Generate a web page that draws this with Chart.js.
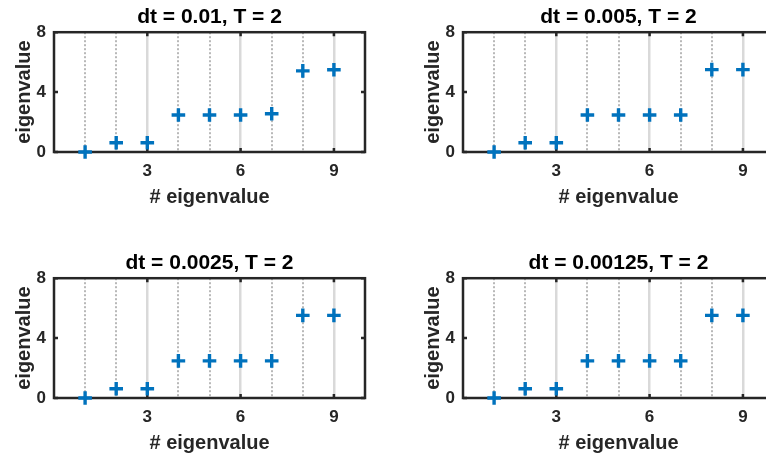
<!DOCTYPE html>
<html><head><meta charset="utf-8">
<script src="https://cdn.jsdelivr.net/npm/chart.js@4.4.1/dist/chart.umd.min.js"></script>
<style>
html,body{margin:0;padding:0;background:#fff;width:766px;height:459px;overflow:hidden;}
body{position:relative;}
canvas{position:absolute;}
</style></head><body>
<canvas id="c1" width="400" height="230" style="left:0px;top:0px"></canvas>
<canvas id="c2" width="400" height="230" style="left:409px;top:0px"></canvas>
<canvas id="c3" width="400" height="230" style="left:0px;top:246px"></canvas>
<canvas id="c4" width="400" height="230" style="left:409px;top:246px"></canvas>
<script>
// ---- data ----
const eigIndex = [1, 2, 3, 4, 5, 6, 7, 8, 9];
const panelTitles = ['dt = 0.01, T = 2', 'dt = 0.005, T = 2', 'dt = 0.0025, T = 2', 'dt = 0.00125, T = 2'];
const eigDt0p01    = [0, 0.62, 0.62, 2.47, 2.47, 2.47, 2.55, 5.42, 5.49];
const eigDt0p005   = [0, 0.62, 0.62, 2.47, 2.47, 2.47, 2.47, 5.50, 5.50];
const eigDt0p0025  = [0, 0.62, 0.62, 2.48, 2.48, 2.48, 2.48, 5.52, 5.52];
const eigDt0p00125 = [0, 0.62, 0.62, 2.48, 2.48, 2.48, 2.48, 5.52, 5.52];
const xTickLabels = [3, 6, 9];
const yTickValues = [0, 4, 8];
const xLabel = '# eigenvalue';
const yLabel = 'eigenvalue';

const FONT = "'Liberation Sans', Arial, Helvetica, sans-serif";
const AXC = '#262626';
const BLUE = '#0072BD';

const boxPlugin = {
  id: 'box',
  beforeDatasetsDraw(chart) {
    const {ctx, chartArea: {left, right, top, bottom}, scales: {x, y}} = chart;
    ctx.save();
    ctx.strokeStyle = AXC;
    ctx.lineWidth = 2.5;
    ctx.strokeRect(left, top, right - left, bottom - top);
    const tl = 4;
    ctx.beginPath();
    xTickLabels.forEach(v => {
      const px = x.getPixelForValue(v);
      ctx.moveTo(px, bottom); ctx.lineTo(px, bottom - tl);
      ctx.moveTo(px, top); ctx.lineTo(px, top + tl);
    });
    yTickValues.forEach(v => {
      const py = y.getPixelForValue(v);
      ctx.moveTo(left, py); ctx.lineTo(left + tl, py);
      ctx.moveTo(right, py); ctx.lineTo(right - tl, py);
    });
    ctx.stroke();
    ctx.restore();
  }
};

function makeChart(id, title, values) {
  return new Chart(document.getElementById(id), {
    type: 'scatter',
    data: {
      datasets: [{
        data: eigIndex.map((k, i) => ({x: k, y: values[i]})),
        pointStyle: 'cross',
        pointRadius: 6.8,
        pointHoverRadius: 6.8,
        borderColor: BLUE,
        backgroundColor: BLUE,
        borderWidth: 3.4,
        pointBorderWidth: 3.4,
        clip: false
      }]
    },
    options: {
      responsive: false,
      animation: false,
      events: [],
      layout: {padding: {left: 0, right: 35, top: 0, bottom: 0}},
      plugins: {
        legend: {display: false},
        tooltip: {enabled: false},
        title: {
          display: true, text: title, fullSize: false, color: '#000',
          font: {family: FONT, size: 21, weight: 'bold'},
          padding: {top: 5, bottom: 2}
        }
      },
      scales: {
        x: {
          type: 'linear', position: 'bottom', min: 0, max: 10,
          afterFit(s) { s.height = 78; },
          ticks: {
            stepSize: 1, autoSkip: false, maxRotation: 0,
            callback: v => xTickLabels.includes(v) ? String(v) : '',
            color: AXC, font: {family: FONT, size: 17, weight: 'bold'}, padding: 9
          },
          grid: {
            drawTicks: false, lineWidth: 2,
            color: c => (c.tick && c.tick.value > 0 && c.tick.value < 10 && c.tick.value % 3 !== 0) ? '#b8b8b8' : 'rgba(0,0,0,0)'
          },
          border: {display: false, dash: [2, 2]},
          title: {
            display: true, text: xLabel, color: AXC,
            font: {family: FONT, size: 20, weight: 'bold'},
            padding: {top: 0, bottom: 21}
          }
        },
        x2: {
          type: 'linear', position: 'bottom', min: 0, max: 10,
          afterFit(s) { s.height = 0; },
          ticks: {display: false, stepSize: 3},
          grid: {
            drawTicks: false, lineWidth: 2.5,
            color: c => (c.tick && xTickLabels.includes(c.tick.value)) ? '#d9d9d9' : 'rgba(0,0,0,0)'
          },
          border: {display: false}
        },
        y: {
          type: 'linear', min: 0, max: 8,
          afterFit(s) { s.width = 54; },
          ticks: {stepSize: 4, color: AXC, font: {family: FONT, size: 17, weight: 'bold'}, padding: 8},
          grid: {display: false, drawTicks: false},
          border: {display: false},
          title: {
            display: true, text: yLabel, color: AXC,
            font: {family: FONT, size: 20, weight: 'bold'},
            padding: {top: 12, bottom: 0}
          }
        }
      }
    },
    plugins: [boxPlugin]
  });
}

makeChart('c1', panelTitles[0], eigDt0p01);
makeChart('c2', panelTitles[1], eigDt0p005);
makeChart('c3', panelTitles[2], eigDt0p0025);
makeChart('c4', panelTitles[3], eigDt0p00125);
</script>
</body></html>
